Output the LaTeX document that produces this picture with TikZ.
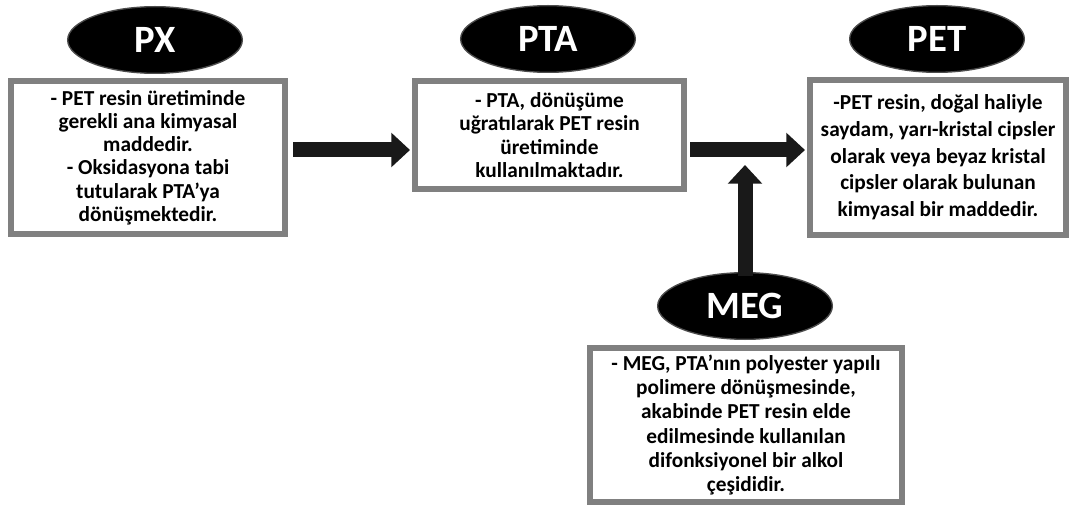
\documentclass[tikz,border=0pt]{standalone}
\usepackage{fontspec}
\setmainfont{Carlito}
\usetikzlibrary{shapes.geometric,arrows.meta}

\begin{document}
\begin{tikzpicture}[x=0.75pt, y=-0.75pt,
        every node/.style={font=\bfseries\fontsize{16}{17.4}\selectfont},
        tag/.style={ellipse, fill=black, draw=black!70, line width=1pt, text=white,
            minimum width=131pt, minimum height=50pt, font=\bfseries\fontsize{29}{32}\selectfont},
        infobox/.style={draw=gray, line width=4.5pt, fill=white, align=center, inner sep=0pt},
        flow/.style={line width=11.25pt, black!90, -{Triangle[width=25pt,length=14pt]}}]
        \useasboundingbox (0,0) rectangle (1071,506);

        % Ellipse tags
        \node[tag] (px) at (155,40) {PX};
        \node[tag] (pta) at (548,39) {PTA};
        \node[tag] (pet) at (937,39) {PET};
        \node[tag] (meg) at (745,306) {MEG};

        % Info boxes
        \node[infobox, minimum width=205.5pt, minimum height=114.75pt] (pxbox) at (148,157.5)
            {- PET resin üretiminde\\ gerekli ana kimyasal\\ maddedir.\\ - Oksidasyona tabi\\ tutularak PTA’ya\\ dönüşmektedir.};
        \node[infobox, minimum width=201.75pt, minimum height=81pt] (ptabox) at (549.5,135)
            {- PTA, dönüşüme\\ uğratılarak PET resin\\ üretiminde\\ kullanılmaktadır.};
        \node[infobox, minimum width=192pt, minimum height=116.25pt,
            font=\bfseries\fontsize{16}{20}\selectfont] (petbox) at (938,157.5)
            {-PET resin, doğal haliyle\\ saydam, yarı-kristal cipsler\\ olarak veya beyaz kristal\\ cipsler olarak bulunan\\ kimyasal bir maddedir.};
        \node[infobox, minimum width=234pt, minimum height=115.5pt,
            font=\bfseries\fontsize{16}{18.2}\selectfont] (megbox) at (746,425)
            {- MEG, PTA’nın polyester yapılı\\ polimere dönüşmesinde,\\ akabinde PET resin elde\\ edilmesinde kullanılan\\ difonksiyonel bir alkol\\ çeşididir.};

        % Flow arrows
        \coordinate (row) at (0,150);
        \draw[flow, shorten <=3.75pt, shorten >=1.5pt] (pxbox.east |- row) -- (ptabox.west |- row);
        \draw[flow, shorten <=2.25pt, shorten >=1.5pt] (ptabox.east |- row) -- (petbox.west |- row);
        \draw[flow, shorten <=-3pt, shorten >=11.25pt] (meg.north) -- (meg.north |- row);

    \end{tikzpicture}
\end{document}
